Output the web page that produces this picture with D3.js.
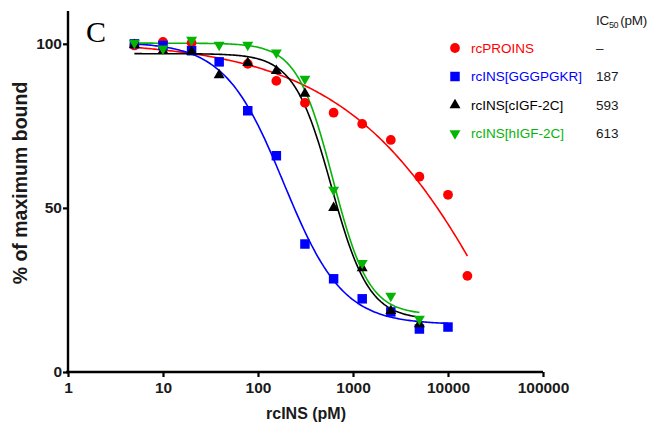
<!DOCTYPE html>
<html>
<head>
<meta charset="utf-8">
<script src="https://cdn.jsdelivr.net/npm/d3@7"></script>
<style>
  html, body { margin: 0; padding: 0; background: #fff; }
  svg { display: block; }
  text { font-family: "Liberation Sans", Arial, sans-serif; }
</style>
</head>
<body>
<div id="chart"></div>
<script>
// Competition binding: % of maximum bound vs. competitor concentration (pM)
const seriesNames = ["rcPROINS", "rcINS[GGGPGKR]", "rcINS[cIGF-2C]", "rcINS[hIGF-2C]"];
const seriesColors = ["#ff0000", "#0000ff", "#000000", "#06b406"];
const seriesSymbols = ["circle", "square", "triangleUp", "triangleDown"];
const ic50Labels = ["–", "187", "593", "613"];

// measured points
const proinsX = [5, 10, 20, 78, 156, 312, 625, 1250, 2500, 5000, 10000, 16000];
const proinsY = [99.5, 100.6, 100.3, 93.9, 88.7, 82.0, 79.0, 75.6, 70.7, 59.5, 54.0, 29.3];

const gggpgkrX = [5, 10, 20, 39, 78, 156, 312, 625, 1250, 2500, 5000, 10000];
const gggpgkrY = [100, 99.5, 97.9, 94.5, 79.6, 65.9, 39.0, 28.4, 22.3, 18.3, 13.1, 13.7];

const cigfX = [5, 10, 20, 39, 78, 156, 312, 625, 1250, 2500, 5000];
const cigfY = [99.7, 97.9, 97.6, 90.5, 94.2, 91.8, 84.8, 50.0, 31.7, 18.6, 14.6];

const higfX = [5, 10, 20, 39, 78, 156, 312, 625, 1250, 2500, 5000];
const higfY = [100.3, 98.5, 101.2, 99.7, 99.7, 97.3, 89.3, 55.5, 33.2, 23.2, 16.2];

// four-parameter logistic fit for each series
const fitTop = [101, 100.5, 97, 100.2];
const fitBottom = [-120, 14.5, 16, 17.5];
const fitLogIC50 = [5.0, Math.log10(187), Math.log10(593), Math.log10(613)];
const fitHill = [0.47, 1.4, 2.2, 2.3];

const xTicks = [1, 10, 100, 1000, 10000, 100000];
const yTicks = [0, 50, 100];

const series = seriesNames.map((name, i) => ({
  name,
  color: seriesColors[i],
  symbol: seriesSymbols[i],
  ic50: ic50Labels[i],
  xs: [proinsX, gggpgkrX, cigfX, higfX][i],
  ys: [proinsY, gggpgkrY, cigfY, higfY][i],
  fit: { top: fitTop[i], bottom: fitBottom[i], logc: fitLogIC50[i], h: fitHill[i] }
}));

const W = 650, H = 426;
const svg = d3.select("#chart").append("svg").attr("width", W).attr("height", H);

const x = d3.scaleLog().domain([1, 100000]).range([68, 543]);
const y = d3.scaleLinear().domain([0, 110]).range([372, 11]);

// axes
const xAxis = d3.axisBottom(x).tickValues(xTicks).tickFormat(d3.format("d")).tickSize(5).tickSizeOuter(0);
const yAxis = d3.axisLeft(y).tickValues(yTicks).tickSize(5).tickSizeOuter(0);

const gx = svg.append("g").attr("transform", "translate(0,372)").call(xAxis);
const gy = svg.append("g").attr("transform", "translate(68,0)").call(yAxis);
[gx, gy].forEach(g => {
  g.select(".domain").attr("stroke", "#000").attr("stroke-width", 2.4);
  g.selectAll(".tick line").attr("stroke", "#000").attr("stroke-width", 2.2);
  g.selectAll(".tick text").attr("fill", "#1a1a1a").attr("font-size", 15.5).attr("font-weight", "bold")
    .attr("font-family", "'Liberation Sans', Arial, sans-serif");
});
gx.select(".domain").attr("d", "M66,0H543");
gy.select(".domain").attr("d", "M0,11V373");
gx.selectAll(".tick text").attr("dy", "0.85em");
gy.selectAll(".tick text").attr("x", -6);

// axis titles
svg.append("text").attr("x", 306).attr("y", 419).attr("text-anchor", "middle")
  .attr("font-size", 16).attr("font-weight", "bold").attr("fill", "#1a1a1a").text("rcINS (pM)");
svg.append("text").attr("transform", "translate(27,183) rotate(-90)").attr("text-anchor", "middle")
  .attr("font-size", 19.5).attr("font-weight", "bold").attr("fill", "#1a1a1a").text("% of maximum bound");

// panel letter
svg.append("text").attr("x", 86).attr("y", 42)
  .style("font-family", "'Liberation Serif', 'Times New Roman', serif")
  .attr("font-size", 30).attr("fill", "#000").text("C");

// fitted curves and points
function logistic(f, conc) {
  return f.bottom + (f.top - f.bottom) / (1 + Math.pow(10, f.h * (Math.log10(conc) - f.logc)));
}
const line = d3.line().x(d => x(d[0])).y(d => y(d[1])).curve(d3.curveLinear);

const symbolType = {
  circle: { type: d3.symbolCircle, size: 75, rot: 0 },
  square: { type: d3.symbolSquare, size: 90, rot: 0 },
  triangleUp: { type: d3.symbolTriangle, size: 52, rot: 0 },
  triangleDown: { type: d3.symbolTriangle, size: 52, rot: 180 }
};

series.forEach(s => {
  const lo = Math.log10(d3.min(s.xs)), hi = Math.log10(d3.max(s.xs));
  const pts = d3.range(0, 201).map(k => {
    const c = Math.pow(10, lo + (hi - lo) * k / 200);
    return [c, logistic(s.fit, c)];
  });
  svg.append("path").datum(pts).attr("d", line).attr("fill", "none")
    .attr("stroke", s.color).attr("stroke-width", 1.6);
});

series.forEach(s => {
  const sym = symbolType[s.symbol];
  svg.append("g").selectAll("path").data(s.xs.map((v, i) => [v, s.ys[i]])).join("path")
    .attr("d", d3.symbol().type(sym.type).size(sym.size))
    .attr("transform", d => `translate(${x(d[0])},${y(d[1])}) rotate(${sym.rot})`)
    .attr("fill", s.color);
});

// legend with IC50 values
const legendRowY = d3.scalePoint().domain(seriesNames).range([48, 133.5]);
const legend = svg.append("g");
series.forEach(s => {
  const cy = legendRowY(s.name);
  const sym = symbolType[s.symbol];
  legend.append("path").attr("d", d3.symbol().type(sym.type).size(sym.size))
    .attr("transform", `translate(455,${cy}) rotate(${sym.rot})`).attr("fill", s.color);
  legend.append("text").attr("x", 471).attr("y", cy + 4.8).attr("font-size", 13.5)
    .attr("fill", s.color).text(s.name);
  legend.append("text").attr("x", 596).attr("y", cy + 4.8).attr("font-size", 13.5)
    .attr("fill", "#1a1a1a").text(s.ic50);
});
const hdr = svg.append("text").attr("x", 596).attr("y", 25).attr("font-size", 13.5)
  .attr("letter-spacing", -0.3).attr("fill", "#1a1a1a");
hdr.append("tspan").text("IC");
hdr.append("tspan").attr("font-size", 9).attr("dy", 3).text("50");
hdr.append("tspan").attr("dy", -3).text("(pM)").attr("dx", 2);
</script>
</body>
</html>
